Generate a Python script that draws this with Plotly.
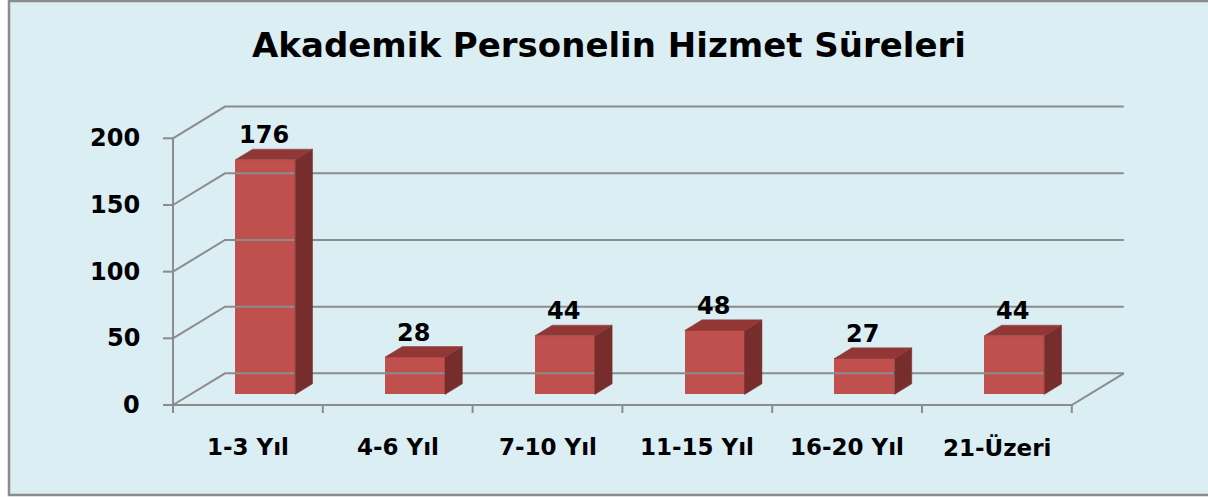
import plotly.graph_objects as go

# ---- data ----
categories = ["1-3 Yıl", "4-6 Yıl", "7-10 Yıl", "11-15 Yıl", "16-20 Yıl", "21-Üzeri"]
values = [176, 28, 44, 48, 27, 44]
y_ticks = [0, 50, 100, 150, 200]
title_text = "Akademik Personelin Hizmet Süreleri"

# ---- geometry / style ----
W, H = 1208, 497
PX_X = 149.8          # pixels per category
PX_Y = 1.3335         # pixels per value unit
X0_PIX, Y0_PIX = 173, 405
DX = 52 / PX_X        # depth offset (category units)
DY = 31.7 / PX_Y      # depth offset (value units)
BAR_W = 0.40
GRID = "#8C8C8C"
FRONT = "#C0504D"
SIDE = "#772D2B"
TOP = "#913836"
BG = "#DBEEF4"
FONT = "DejaVu Sans"

n = len(categories)
xr = [-X0_PIX / PX_X, (W - X0_PIX) / PX_X]
yr = [-(H - Y0_PIX) / PX_Y, Y0_PIX / PX_Y]

fig = go.Figure()

def line(xs, ys, width=2):
    fig.add_trace(go.Scatter(x=xs, y=ys, mode="lines", line=dict(color=GRID, width=width),
                             hoverinfo="skip", showlegend=False))

# back wall gridlines and left wall diagonals
for v in y_ticks:
    line([0, DX, n + DX], [v, v + DY, v + DY])
# floor front edge and right edge
line([0, n, n + DX], [0, 0, DY])
# front vertical axis
line([0, 0], [0, max(y_ticks)])
# y ticks
for v in y_ticks:
    line([-10 / PX_X, 0], [v, v])
# x ticks at category boundaries
for i in range(n + 1):
    line([i, i], [0, -8 / PX_Y])

# bars: front faces
base = DY / 3
centers = [i + 0.5 + DX / 3 for i in range(n)]
fig.add_trace(go.Bar(x=centers, y=values, base=[base] * n, width=BAR_W,
                     marker=dict(color=FRONT, line=dict(width=0)),
                     hoverinfo="skip", showlegend=False))
# side and top faces
dxb, dyb = DX / 3, DY / 3
for c, v in zip(centers, values):
    xl, xrr = c - BAR_W / 2, c + BAR_W / 2
    top = base + v
    fig.add_trace(go.Scatter(x=[xrr, xrr + dxb, xrr + dxb, xrr, xrr],
                             y=[base, base + dyb, top + dyb, top, base],
                             fill="toself", fillcolor=SIDE, mode="lines",
                             line=dict(width=0.5, color=SIDE), hoverinfo="skip", showlegend=False))
    fig.add_trace(go.Scatter(x=[xl, xl + dxb, xrr + dxb, xrr, xl],
                             y=[top, top + dyb, top + dyb, top, top],
                             fill="toself", fillcolor=TOP, mode="lines",
                             line=dict(width=0.5, color=TOP), hoverinfo="skip", showlegend=False))

annotations = []
# data labels
for c, v in zip(centers, values):
    annotations.append(dict(x=c - 0.01, y=base + v + dyb, text=str(v), showarrow=False,
                            xanchor="center", yanchor="middle", yshift=14,
                            font=dict(family=FONT, size=24, color="black", weight="bold")))
# category labels
for i, cat in enumerate(categories):
    annotations.append(dict(x=i + 0.5, y=0, text=cat, showarrow=False,
                            xanchor="center", yanchor="middle", yshift=-42,
                            font=dict(family=FONT, size=23, color="black", weight="bold")))
# y tick labels
for v in y_ticks:
    annotations.append(dict(x=0, y=v, text=str(v), showarrow=False,
                            xanchor="right", yanchor="middle", xshift=-31,
                            font=dict(family=FONT, size=24, color="black", weight="bold")))

bx0, by0, by1 = 9 / W, 2 / H, 1 - 1 / H
fig.update_layout(
    width=W, height=H,
    margin=dict(l=0, r=0, t=0, b=0),
    paper_bgcolor="white", plot_bgcolor="rgba(0,0,0,0)",
    xaxis=dict(range=xr, visible=False, fixedrange=True),
    yaxis=dict(range=yr, visible=False, fixedrange=True),
    bargap=0,
    showlegend=False,
    title=dict(text=title_text, x=609 / W, xanchor="center",
               y=1 - 45 / H, yanchor="middle", yref="container",
               font=dict(family=FONT, size=34, color="black", weight="bold")),
    annotations=annotations,
    shapes=[
        dict(type="rect", xref="paper", yref="paper", x0=bx0, x1=1.0, y0=by0, y1=by1,
             fillcolor=BG, line=dict(width=0), layer="below"),
        dict(type="path", xref="paper", yref="paper",
             path=f"M 1,{by1} L {bx0},{by1} L {bx0},{by0} L 1,{by0}",
             line=dict(color=GRID, width=2.5), layer="below"),
    ],
)

fig.write_html("out.html", config={"displayModeBar": False},
               post_script="document.body.style.margin='0';document.body.style.overflow='hidden';")
